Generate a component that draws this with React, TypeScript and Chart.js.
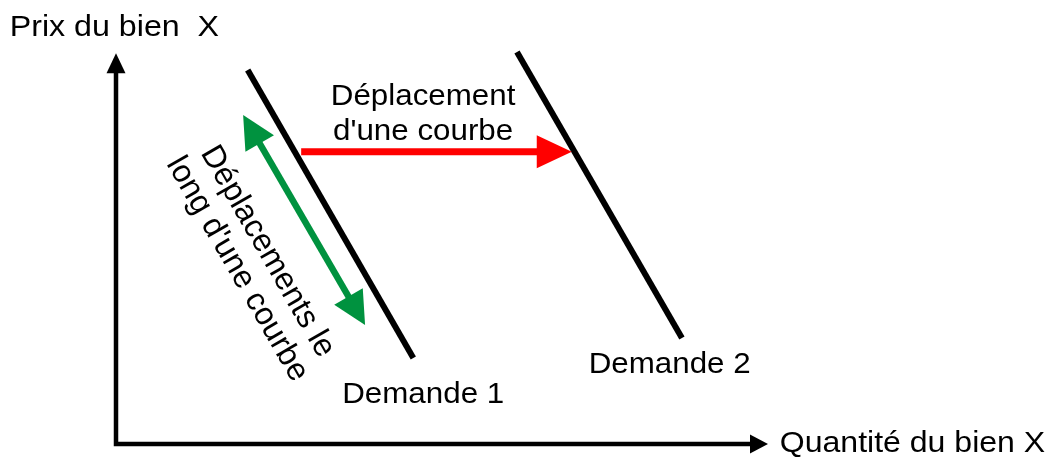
import React, { useEffect, useRef } from "react";
import { Chart, registerables } from "chart.js";

Chart.register(...registerables);

// Data (quantity 0..100, price 0..100, conceptual units)
const axisQ = [0, 0, 100];
const axisP = [99.2, 0, 0];
const demand1Q = [20.2, 45.6];
const demand1P = [94.9, 21.8];
const demand2Q = [61.5, 86.8];
const demand2P = [99.5, 26.9];
const shiftQ = [28.4, 69.9];
const shiftP = [74.2, 74.2];
const alongQ = [19.5, 38.2];
const alongP = [83.5, 30.2];

const yAxisTitle = "Prix du bien  X";
const xAxisTitle = "Quantité du bien X";
const demand1Label = "Demande 1";
const demand2Label = "Demande 2";
const shiftLabel = ["Déplacement", "d'une courbe"];
const alongLabel = ["Déplacements le", "long d'une courbe"];

// label anchors in data units
const yTitlePos = { q: -16.3, p: 103.6 };
const xTitlePos = { q: 101.8, p: -2.0 };
const demand1Pos = { q: 34.7, p: 10.4 };
const demand2Pos = { q: 72.5, p: 18.0 };
const shiftPos = { q: 47.1, p: 86.0 };
const alongPos = { q: 20.9, p: 46.6 };

const toPts = (q: number[], p: number[]) => q.map((x, i) => ({ x, y: p[i] }));

const FONT = "'Liberation Sans', Arial, Helvetica, sans-serif";

function drawHead(ctx: CanvasRenderingContext2D, tip: { x: number; y: number }, dx: number, dy: number, L: number, H: number) {
  const bx = tip.x - dx * L;
  const by = tip.y - dy * L;
  ctx.beginPath();
  ctx.moveTo(tip.x, tip.y);
  ctx.lineTo(bx - dy * H, by + dx * H);
  ctx.lineTo(bx + dy * H, by - dx * H);
  ctx.closePath();
  ctx.fill();
}

function drawArrow(
  ctx: CanvasRenderingContext2D,
  a: { x: number; y: number },
  b: { x: number; y: number },
  w: number,
  color: string,
  L: number,
  H: number,
  startHead: boolean,
  endHead: boolean
) {
  const len = Math.hypot(b.x - a.x, b.y - a.y);
  const dx = (b.x - a.x) / len;
  const dy = (b.y - a.y) / len;
  const s = startHead ? L * 0.9 : 0;
  const e = endHead ? L * 0.9 : 0;
  ctx.save();
  ctx.strokeStyle = color;
  ctx.fillStyle = color;
  ctx.lineWidth = w;
  ctx.lineCap = "butt";
  ctx.beginPath();
  ctx.moveTo(a.x + dx * s, a.y + dy * s);
  ctx.lineTo(b.x - dx * e, b.y - dy * e);
  ctx.stroke();
  if (endHead) drawHead(ctx, b, dx, dy, L, H);
  if (startHead) drawHead(ctx, a, -dx, -dy, L, H);
  ctx.restore();
}

function stretchedText(ctx: CanvasRenderingContext2D, text: string, x: number, y: number, sx: number) {
  ctx.save();
  ctx.translate(x, y);
  ctx.scale(sx, 1);
  ctx.fillText(text, 0, 0);
  ctx.restore();
}

const diagramPlugin = {
  id: "diagram",
  afterDatasetsDraw(chart: any) {
    const ctx: CanvasRenderingContext2D = chart.ctx;
    const xs = chart.scales.x;
    const ys = chart.scales.y;
    const px = (q: number, p: number) => ({ x: xs.getPixelForValue(q), y: ys.getPixelForValue(p) });

    // axes (L shape with two arrow heads)
    const top = px(axisQ[0], axisP[0]);
    const origin = px(axisQ[1], axisP[1]);
    const right = px(axisQ[2], axisP[2]);
    ctx.save();
    ctx.strokeStyle = "#000";
    ctx.fillStyle = "#000";
    ctx.lineWidth = 4.5;
    ctx.lineJoin = "miter";
    ctx.beginPath();
    ctx.moveTo(top.x, top.y + 18);
    ctx.lineTo(origin.x, origin.y);
    ctx.lineTo(right.x - 16, right.y);
    ctx.stroke();
    drawHead(ctx, top, 0, -1, 20, 9.5);
    drawHead(ctx, right, 1, 0, 18, 9.5);
    ctx.restore();

    // shift arrow (red)
    drawArrow(ctx, px(shiftQ[0], shiftP[0]), px(shiftQ[1], shiftP[1]), 7, "#FF0000", 35, 16.5, false, true);
    // along arrow (green, double)
    drawArrow(ctx, px(alongQ[0], alongP[0]), px(alongQ[1], alongP[1]), 6.5, "#00923F", 33, 16.5, true, true);

    // texts
    ctx.save();
    ctx.fillStyle = "#000";
    ctx.font = `29px ${FONT}`;
    ctx.textBaseline = "alphabetic";
    ctx.textAlign = "left";
    let p = px(yTitlePos.q, yTitlePos.p);
    stretchedText(ctx, yAxisTitle, p.x, p.y, 1.11);
    p = px(xTitlePos.q, xTitlePos.p);
    stretchedText(ctx, xAxisTitle, p.x, p.y, 1.105);
    p = px(demand1Pos.q, demand1Pos.p);
    stretchedText(ctx, demand1Label, p.x, p.y, 1.08);
    p = px(demand2Pos.q, demand2Pos.p);
    stretchedText(ctx, demand2Label, p.x, p.y, 1.08);

    ctx.textAlign = "center";
    p = px(shiftPos.q, shiftPos.p);
    stretchedText(ctx, shiftLabel[0], p.x, p.y, 1.08);
    stretchedText(ctx, shiftLabel[1], p.x, p.y + 35, 1.08);

    p = px(alongPos.q, alongPos.p);
    ctx.translate(p.x, p.y);
    ctx.rotate((60 * Math.PI) / 180);
    ctx.textBaseline = "middle";
    ctx.font = `32px ${FONT}`;
    ctx.fillText(alongLabel[0], 0, -17.5);
    ctx.fillText(alongLabel[1], 0, 17.5);
    ctx.restore();
  },
};

export default function App() {
  const ref = useRef<HTMLCanvasElement | null>(null);
  useEffect(() => {
    if (!ref.current) return;
    const chart = new Chart(ref.current, {
      type: "scatter",
      data: {
        datasets: [
          {
            label: demand1Label,
            data: toPts(demand1Q, demand1P),
            showLine: true,
            borderColor: "#000",
            borderWidth: 6,
            pointRadius: 0,
            borderCapStyle: "butt",
          },
          {
            label: demand2Label,
            data: toPts(demand2Q, demand2P),
            showLine: true,
            borderColor: "#000",
            borderWidth: 6,
            pointRadius: 0,
            borderCapStyle: "butt",
          },
        ],
      },
      options: {
        animation: false,
        responsive: false,
        devicePixelRatio: 1,
        layout: { padding: { left: 116, right: 281, top: 50, bottom: 15 } },
        plugins: { legend: { display: false }, tooltip: { enabled: false }, title: { display: false } },
        scales: {
          x: { type: "linear", min: 0, max: 100, display: false },
          y: { type: "linear", min: 0, max: 100, display: false },
        },
      },
      plugins: [diagramPlugin],
    } as any);
    return () => chart.destroy();
  }, []);
  return (
    <div style={{ position: "fixed", left: 0, top: 0, width: 1049, height: 459, background: "#fff" }}>
      <canvas ref={ref} width={1049} height={459} style={{ display: "block" }} />
    </div>
  );
}
